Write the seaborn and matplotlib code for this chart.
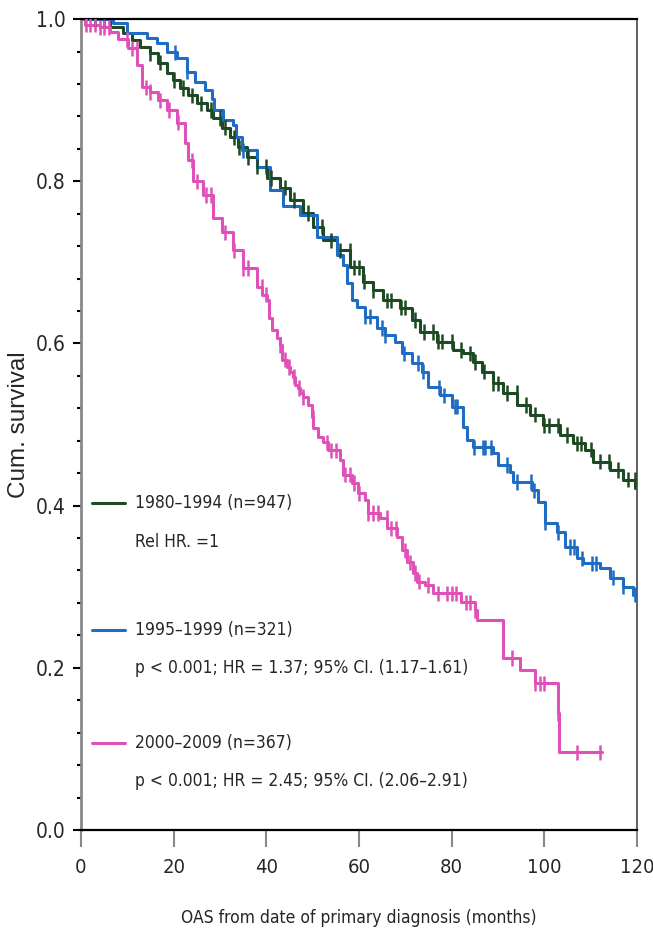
#libs
import numpy as np
import pandas as pd
import matplotlib
matplotlib.use("Agg")
import matplotlib.pyplot as plt
import seaborn as sns
from matplotlib import font_manager
from matplotlib.ticker import MultipleLocator

#values (month, cum. survival after the step)
t_8094 = [0, 6.3, 9.1, 11, 12.7, 14.9, 16.6, 18.6, 19.9, 21.4, 23.1, 25, 27.2, 28.5, 30.4,
          32.2, 33.9, 35.8, 38, 40.1, 43, 45.1, 48, 50.1, 52.3, 55.2, 58.1, 60.9, 63, 65.2,
          68.9, 71.4, 73.2, 76.8, 80.3, 82.4, 84.6, 86.6, 89, 91.1, 94.1, 96.9, 99.7, 103.4,
          106.2, 108.8, 110.5, 114.2, 117, 119.6, 120]
s_8094 = [1.0, 0.99, 0.983, 0.974, 0.965, 0.958, 0.946, 0.933, 0.925, 0.915, 0.906, 0.896,
          0.888, 0.878, 0.866, 0.854, 0.842, 0.83, 0.818, 0.804, 0.792, 0.777, 0.761, 0.744,
          0.727, 0.715, 0.694, 0.676, 0.666, 0.653, 0.644, 0.629, 0.614, 0.602, 0.592, 0.588,
          0.577, 0.565, 0.551, 0.539, 0.524, 0.512, 0.499, 0.487, 0.477, 0.469, 0.454, 0.444,
          0.432, 0.422, 0.422]

t_9599 = [0, 7, 10, 14.2, 16.4, 18.6, 20.7, 22.9, 24.6, 26.8, 28.3, 28.8, 30.7, 32.8, 33.4,
          34.8, 38, 40.8, 43.6, 47.3, 50.9, 55.2, 56.5, 57.4, 58.5, 59.6, 61.3, 63.9, 65.6,
          67.8, 69.3, 71.4, 73.6, 74.9, 77.5, 80.1, 82.4, 83.4, 84.7, 89, 90, 92.6, 93.3, 97.4,
          98.6, 100.2, 102.8, 104.5, 107.1, 108.4, 112, 114.2, 117, 119.2, 120]
s_9599 = [1.0, 0.995, 0.983, 0.977, 0.97, 0.959, 0.952, 0.935, 0.922, 0.912, 0.902, 0.888,
          0.875, 0.869, 0.854, 0.838, 0.818, 0.789, 0.77, 0.758, 0.731, 0.709, 0.697, 0.674,
          0.653, 0.645, 0.633, 0.619, 0.61, 0.602, 0.588, 0.576, 0.565, 0.546, 0.536, 0.522,
          0.497, 0.481, 0.472, 0.465, 0.45, 0.441, 0.429, 0.419, 0.404, 0.379, 0.367, 0.349,
          0.335, 0.329, 0.323, 0.311, 0.3, 0.29, 0.29]

t_0009 = [0, 0.8, 4, 6.3, 8, 10.1, 12.1, 13.2, 14.9, 16.6, 18.6, 20.7, 22.5, 23.1, 24.2, 26.3,
          28.5, 30.4, 32.8, 35, 38, 39.1, 40.1, 40.6, 41.2, 42.3, 43, 43.4, 44.5, 45.1, 45.8,
          46.2, 46.8, 47.3, 47.9, 49, 49.9, 50.1, 51.2, 52.3, 53.3, 55.9, 56.6, 58.5, 59.8,
          61.3, 62, 64.6, 66.1, 68.2, 69.3, 70.4, 71.7, 72.5, 74.2, 76, 82, 85, 85.4, 91.1,
          94.8, 98, 103, 103.2, 112.5]
s_0009 = [1.0, 0.993, 0.99, 0.984, 0.975, 0.964, 0.943, 0.916, 0.91, 0.9, 0.888, 0.872, 0.847,
          0.826, 0.8, 0.783, 0.755, 0.737, 0.715, 0.693, 0.67, 0.66, 0.653, 0.631, 0.617,
          0.607, 0.598, 0.58, 0.571, 0.565, 0.559, 0.549, 0.545, 0.539, 0.534, 0.524, 0.509,
          0.496, 0.485, 0.478, 0.468, 0.456, 0.438, 0.428, 0.415, 0.407, 0.391, 0.385, 0.372,
          0.361, 0.345, 0.33, 0.317, 0.306, 0.302, 0.292, 0.281, 0.271, 0.259, 0.212, 0.197,
          0.181, 0.144, 0.096, 0.096]

#censored cases (months)
c_8094 = [3, 5, 15, 17, 20, 22, 24, 26, 28, 30, 31, 33, 34, 36, 38, 40, 41, 44, 46, 49, 52,
          54, 56, 58, 59, 60, 61, 63, 66, 67, 69, 70, 72, 74, 76, 77, 78, 80, 82, 84, 85, 87,
          89, 90, 92, 94, 96, 98, 100, 101, 103, 105, 107, 108, 110, 112, 114, 116, 118, 119.5]
c_9599 = [20.3, 22.9, 35, 61.3, 62.3, 65, 65.6, 69.8, 72.7, 73.9, 77.3, 78.4, 80.8, 81.2,
          84.9, 86.7, 87.3, 88.4, 92, 94.2, 97.1, 97.8, 100.2, 103, 105.6, 106.3, 108.1,
          110.2, 111.2, 114.8, 117, 119.6]
c_0009 = [1, 2, 3, 4, 5, 6, 10, 11, 12, 14, 15, 17, 19, 21, 24, 25, 27, 28, 31, 33, 35, 36,
          39, 40, 43, 44, 45, 46, 47, 48, 50, 53, 54, 55, 57, 58, 59, 60, 62, 63, 64, 66, 67,
          68, 70, 71, 72, 73, 75, 77, 79, 80, 81, 83, 84, 85, 93, 98, 99, 100, 103, 107, 112]

cohorts = ["1980–1994 (n=947)", "1995–1999 (n=321)", "2000–2009 (n=367)"]
notes = ["Rel HR. =1",
         "p < 0.001; HR = 1.37; 95% CI. (1.17–1.61)",
         "p < 0.001; HR = 2.45; 95% CI. (2.06–2.91)"]
colors = ["#1d4a22", "#1f6cc4", "#e050b9"]

#build frames
curves, cens = [], []
for name, t, s, c in zip(cohorts, [t_8094, t_9599, t_0009], [s_8094, s_9599, s_0009],
                         [c_8094, c_9599, c_0009]):
    curves.append(pd.DataFrame({"month": t, "surv": s, "cohort": name}))
    idx = np.searchsorted(t, c, side="right") - 1
    cens.append(pd.DataFrame({"month": c, "surv": np.array(s)[idx], "cohort": name}))
curves = pd.concat(curves, ignore_index=True)
cens = pd.concat(cens, ignore_index=True)

#fonts
sns.set_style("white")
names = {f.name for f in font_manager.fontManager.ttflist}
narrow = "Liberation Sans Narrow" if "Liberation Sans Narrow" in names else "DejaVu Sans"
plt.rcParams['font.family'] = [narrow, 'DejaVu Sans']
stretch = "normal" if narrow != "DejaVu Sans" else "condensed"

pal = dict(zip(cohorts, colors))
fig = plt.figure(figsize=(6.53, 9.41), dpi=100)
ax = fig.add_axes([0.124, 0.118, 0.8515, 0.8617])

sns.lineplot(data=curves, x="month", y="surv", hue="cohort", palette=pal,
             estimator=None, drawstyle="steps-post", lw=2.2, legend=False, ax=ax)
sns.scatterplot(data=cens, x="month", y="surv", hue="cohort", palette=pal,
                marker="|", s=120, linewidth=1.8, legend=False, ax=ax, zorder=3)

ax.set_xlim(0, 120)
ax.set_ylim(0, 1.0)
ax.xaxis.set_major_locator(MultipleLocator(20))
ax.yaxis.set_minor_locator(MultipleLocator(0.04))
ax.set_yticks([0.0, 0.2, 0.4, 0.6, 0.8, 1.0])
ax.set_yticklabels(["0.0", "0.2", "0.4", "0.6", "0.8", "1.0"])

for lab in ax.get_yticklabels():
    lab.set_fontsize(15)
    lab.set_fontstretch(stretch)
for lab in ax.get_xticklabels():
    lab.set_fontsize(14.5)
    lab.set_fontstretch(stretch)
ax.tick_params(axis="x", direction="out", length=12, width=1.5, color="#888888", pad=8,
               bottom=True)
ax.tick_params(axis="y", which="major", direction="out", length=6, width=1.5, color="black",
               pad=5, left=True)
ax.tick_params(axis="y", which="minor", direction="out", length=3, width=1.5, color="black",
               left=True)

ax.spines["top"].set_color("black")
ax.spines["top"].set_linewidth(1.6)
ax.spines["bottom"].set_color("black")
ax.spines["bottom"].set_linewidth(1.6)
ax.spines["left"].set_color("#888888")
ax.spines["left"].set_linewidth(2)
ax.spines["right"].set_color("#555555")
ax.spines["right"].set_linewidth(1.3)

ax.set_xlabel("OAS from date of primary diagnosis (months)", fontsize=12.5, labelpad=23,
              fontstretch=stretch)
ax.set_ylabel("Cum. survival", fontsize=17.5, family=["Liberation Sans", "DejaVu Sans"])
ax.yaxis.set_label_coords(-0.092, 0.5)

#legend block
rows = [(0.403, 0.355), (0.2466, 0.20), (0.107, 0.060)]
for (y1, y2), name, note, col in zip(rows, cohorts, notes, colors):
    ax.plot([0.020, 0.079], [y1, y1], color=col, lw=2.2, transform=ax.transAxes)
    ax.text(0.097, y1, name, transform=ax.transAxes, fontsize=12.5, va="center",
            fontstretch=stretch)
    ax.text(0.097, y2, note, transform=ax.transAxes, fontsize=12.5, va="center",
            fontstretch=stretch)

plt.savefig("out.png", dpi=100)
